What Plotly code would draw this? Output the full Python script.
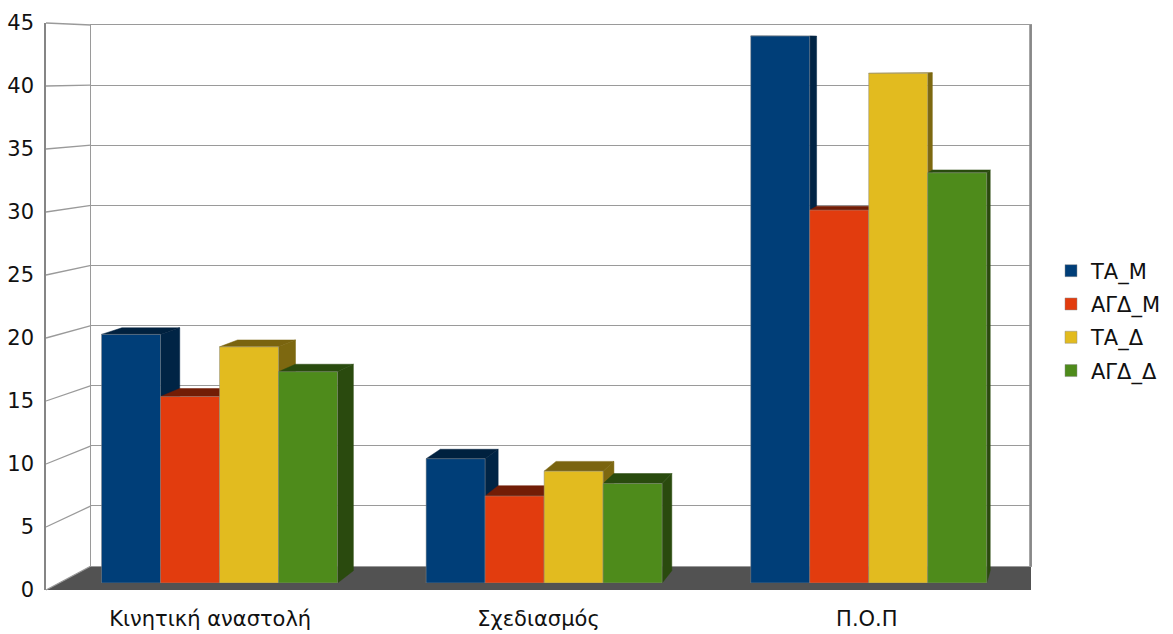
import plotly.graph_objects as go

# ---- data ----
categories = ["Κινητική αναστολή", "Σχεδιασμός", "Π.Ο.Π"]
series_names = ["ΤΑ_Μ", "ΑΓΔ_Μ", "ΤΑ_Δ", "ΑΓΔ_Δ"]
ta_m = [20, 10, 44]
agd_m = [15, 7, 30]
ta_d = [19, 9, 41]
agd_d = [17, 8, 33]
y_ticks = [0, 5, 10, 15, 20, 25, 30, 35, 40, 45]

series_values = [ta_m, agd_m, ta_d, agd_d]

# ---- styling ----
front_colors = ["#003e78", "#e23c0e", "#e2bb1f", "#4e8b1b"]
top_colors = ["#00213f", "#721d06", "#7a640f", "#294b0e"]
side_colors = ["#002445", "#6f1c06", "#7d6810", "#2a4a0e"]
GRID = "#9a9a9a"
EDGE = "#888888"
FONT = "DejaVu Sans"
FONT_SIZE = 21
TEXT = "#111111"

W, H = 1173, 634


def px(x):
    return x / W


def py(y):
    return 1 - y / H


# plane geometry (pixels): back wall, bar front plane, front edge
WALL_X = (91, 1030.5)
WALL_Y = (566, 25)      # value 0 / value 45
BAR_X = (57.2, 1031)
BAR_Y = (583, 23.65)
FRONT_X = (46, 1031)
FRONT_Y = (590, 23)
Y_MAX = 45

GROUP_WIDTH = 0.727     # fraction of a category slot taken by a group of bars
N = len(series_names)
BW = GROUP_WIDTH / N

# perspective offset of a bar's back face, in data units
DX0, SX = 0.0558, 0.981
DV0, SV = 0.99, 0.977


def back_x(x):
    return DX0 + SX * x


def back_v(v):
    return DV0 + SV * v


fig = go.Figure()

# empty trace keeps the wall subplot alive
fig.add_trace(go.Scatter(x=[], y=[], xaxis="x", yaxis="y", showlegend=False,
                         hoverinfo="skip"))

# depth faces (sides and tops) of every bar, drawn behind the front faces
for j in range(N):
    vals = series_values[j]
    sx, sy, tx, ty = [], [], [], []
    for i, v in enumerate(vals):
        xl = i - GROUP_WIDTH / 2 + j * BW
        xr = xl + BW
        sx += [xr, xr, back_x(xr), back_x(xr), xr, None]
        sy += [0, v, back_v(v), back_v(0), 0, None]
        tx += [xl, xr, back_x(xr), back_x(xl), xl, None]
        ty += [v, v, back_v(v), back_v(v), v, None]
    fig.add_trace(go.Scatter(x=sx, y=sy, mode="lines", fill="toself",
                             fillcolor=side_colors[j],
                             line=dict(color=side_colors[j], width=0.5),
                             xaxis="x2", yaxis="y2", showlegend=False,
                             hoverinfo="skip"))
    fig.add_trace(go.Scatter(x=tx, y=ty, mode="lines", fill="toself",
                             fillcolor=top_colors[j],
                             line=dict(color=top_colors[j], width=0.5),
                             xaxis="x2", yaxis="y2", showlegend=False,
                             hoverinfo="skip"))

# front faces of the bars
for j in range(N):
    fig.add_trace(go.Bar(
        x=categories, y=series_values[j], name=series_names[j],
        marker=dict(color=front_colors[j],
                    line=dict(color="rgba(140,140,140,0.6)", width=0.8)),
        xaxis="x3", yaxis="y3", legendgroup=series_names[j],
    ))

# invisible trace on the front-edge axes so their labels are drawn
fig.add_trace(go.Scatter(x=[0, 1, 2], y=[0, 0, 0], mode="markers",
                         marker=dict(opacity=0), xaxis="x4", yaxis="y4",
                         showlegend=False, hoverinfo="skip"))

# floor and side wall
shapes = []
floor_path = "M {} {} L {} {} L {} {} L {} {} Z".format(
    px(FRONT_X[0]), py(FRONT_Y[0]), px(FRONT_X[1]), py(FRONT_Y[0]),
    px(WALL_X[1] + 0.5), py(WALL_Y[0]), px(WALL_X[0]), py(WALL_Y[0]))
shapes.append(dict(type="path", path=floor_path, xref="paper", yref="paper",
                   fillcolor="#525252", line=dict(width=0), layer="below"))
for v in y_ticks:
    yf = FRONT_Y[0] + (FRONT_Y[1] - FRONT_Y[0]) * v / Y_MAX
    yw = WALL_Y[0] + (WALL_Y[1] - WALL_Y[0]) * v / Y_MAX
    shapes.append(dict(type="line", xref="paper", yref="paper",
                       x0=px(FRONT_X[0]), y0=py(yf), x1=px(WALL_X[0]), y1=py(yw),
                       line=dict(color=GRID, width=1.3), layer="below"))
shapes.append(dict(type="line", xref="paper", yref="paper",
                   x0=px(WALL_X[1]), y0=py(WALL_Y[1]),
                   x1=px(WALL_X[1]), y1=py(WALL_Y[0]),
                   line=dict(color=EDGE, width=2.5), layer="above"))

fig.update_layout(
    width=W, height=H,
    margin=dict(l=0, r=0, t=0, b=0, autoexpand=False),
    paper_bgcolor="white",
    plot_bgcolor="rgba(0,0,0,0)",
    barmode="group",
    bargap=1 - GROUP_WIDTH,
    bargroupgap=0,
    font=dict(family=FONT, size=FONT_SIZE, color=TEXT),
    shapes=shapes,
    showlegend=True,
    legend=dict(x=px(1051), y=py(321), xanchor="left", yanchor="middle",
                font=dict(family=FONT, size=FONT_SIZE, color=TEXT),
                bgcolor="rgba(0,0,0,0)", tracegroupgap=3),
    # back wall
    xaxis=dict(domain=[px(WALL_X[0]), px(WALL_X[1])], range=[0, 1],
               showgrid=False, zeroline=False, showticklabels=False,
               ticks="", showline=True, mirror=True, linecolor=GRID,
               linewidth=1.3, anchor="y", fixedrange=True, automargin=False),
    yaxis=dict(domain=[py(WALL_Y[0]), py(WALL_Y[1])], range=[0, Y_MAX],
               tickvals=y_ticks, showgrid=True, gridcolor=GRID, gridwidth=1.3,
               zeroline=False, showticklabels=False, ticks="",
               showline=True, mirror=True, linecolor=GRID, linewidth=1.3,
               anchor="x", fixedrange=True, automargin=False),
    # depth faces
    xaxis2=dict(domain=[px(BAR_X[0]), px(BAR_X[1])], range=[-0.5, 2.5],
                visible=False, anchor="y2", fixedrange=True),
    yaxis2=dict(domain=[py(BAR_Y[0]), py(BAR_Y[1])], range=[0, Y_MAX],
                visible=False, anchor="x2", fixedrange=True),
    # bar front faces
    xaxis3=dict(overlaying="x2", type="category", range=[-0.5, 2.5],
                categoryorder="array", categoryarray=categories,
                visible=False, anchor="y3", fixedrange=True),
    yaxis3=dict(overlaying="y2", range=[0, Y_MAX], visible=False,
                anchor="x3", fixedrange=True),
    # front edge with the labels
    xaxis4=dict(domain=[px(FRONT_X[0]), px(FRONT_X[1])], range=[-0.5, 2.5],
                tickmode="array", tickvals=[0, 1, 2], ticktext=categories,
                showgrid=False, zeroline=False, showline=False, ticks="",
                showticklabels=True, ticklabelstandoff=14,
                tickfont=dict(family=FONT, size=FONT_SIZE, color=TEXT),
                anchor="y4", fixedrange=True, automargin=False),
    yaxis4=dict(domain=[py(FRONT_Y[0]), py(FRONT_Y[1])], range=[0, Y_MAX],
                tickmode="array", tickvals=y_ticks, showgrid=False,
                zeroline=False, showticklabels=True,
                showline=True, linecolor="#858585", linewidth=1.5, ticks="",
                ticklabelstandoff=6,
                tickfont=dict(family=FONT, size=FONT_SIZE, color=TEXT),
                anchor="x4", fixedrange=True, automargin=False),
)

fig.write_html("out.html")
